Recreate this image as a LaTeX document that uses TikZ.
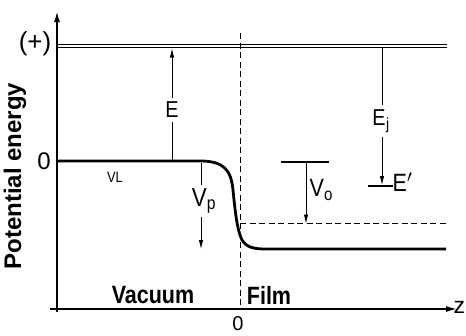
\documentclass[tikz,border=0pt]{standalone}
\usepackage{fontspec}
\setmainfont{Liberation Sans}
\newfontfamily\narrowfont[FakeStretch=0.86]{Liberation Sans}
\usetikzlibrary{arrows.meta}
\begin{document}
\begin{tikzpicture}[x=1pt,y=-1pt,
  lbl/.style={inner sep=0.5pt, font=\narrowfont\fontsize{23}{25}\selectfont},
  blbl/.style={inner sep=0.5pt, font=\narrowfont\fontsize{25}{27}\selectfont\bfseries},
  small/.style={inner sep=0.5pt, font=\narrowfont\fontsize{15}{17}\selectfont},
  axis/.style={line width=1.8pt, -{Latex[length=11pt,width=6pt]}},
  arr/.style={line width=0.8pt, -{Latex[length=9pt,width=4.5pt]}},
  thinline/.style={line width=0.8pt},
  curve/.style={line width=2.8pt, line join=round},
  dashln/.style={line width=0.9pt, dash pattern=on 6pt off 3.5pt}
]
\useasboundingbox (0,0) rectangle (466,335);
% axes
\coordinate (yb) at (57,312);
\coordinate (yt) at (57,11);
\coordinate (xl) at (50,309);
\coordinate (xr) at (457,309);
\draw[axis] (yb) -- (yt);
\draw[axis, line width=1.5pt] (xl) -- (xr);
\node[lbl, anchor=west, font=\fontsize{23}{24}\selectfont] (z) at (453,307) {z};
\node[lbl, font=\fontsize{20}{20}\selectfont] (zero2) at (238,324) {0};
\node[lbl, font=\fontsize{26}{28}\selectfont] (plus) at (35,44) {(+)};
\node[lbl, font=\fontsize{24}{26}\selectfont] (zero1) at (44,161) {0};
\node[inner sep=0.5pt, font=\fontsize{24}{26}\selectfont\bfseries, rotate=90] (ylab) at (15,176) {Potential energy};
% double line (+)
\coordinate (d1l) at (57,44.2);
\coordinate (d1r) at (447,44.2);
\coordinate (d2l) at (57,47.6);
\coordinate (d2r) at (447,47.6);
\draw[thinline] (d1l) -- (d1r);
\draw[thinline] (d2l) -- (d2r);
% interface dashed line
\coordinate (vt) at (240,33);
\coordinate (vb) at (240,309);
\draw[dashln] (vt) -- (vb);
% potential curve
\coordinate (c0) at (57,161);
\coordinate (c1) at (200,161);
\coordinate (c2) at (446,249);
\draw[curve] (c0) -- (c1) .. controls (224,161) and (231,170) .. (233,190)
  .. controls (235,210) and (237,230) .. (242,240)
  .. controls (247,248) and (255,249) .. (266,249) -- (c2);
% V0 dashed level
\coordinate (h0) at (240,223.5);
\coordinate (h1) at (446,223.5);
\draw[dashln] (h0) -- (h1);
% E arrow
\coordinate (eb) at (172,161);
\coordinate (et) at (172,48.5);
\draw[arr] (eb) -- (et);
\node[lbl, fill=white, inner ysep=4pt] (E) at (172,110) {E};
% Ej arrow and E'
\coordinate (jt) at (382,48);
\coordinate (jb) at (382,185);
\draw[arr] (jt) -- (jb);
\node[lbl, fill=white, inner ysep=5pt] (Ej) at (381,121) {E\textsubscript{\kern0.5pt j}};
\coordinate (epl) at (368,186);
\coordinate (epr) at (393,186);
\draw[line width=1.3pt] (epl) -- (epr);
\node[lbl, anchor=west, font=\narrowfont\fontsize{25}{27}\selectfont] (Ep) at (392,182) {E$'$};
% Vo
\coordinate (ol) at (281,162);
\coordinate (or) at (329,162);
\coordinate (ot) at (306,162);
\coordinate (ob) at (306,223.5);
\draw[line width=1.2pt] (ol) -- (or);
\draw[arr] (ot) -- (ob);
\node[lbl, anchor=west, font=\narrowfont\fontsize{25}{27}\selectfont] (Vo) at (309,190) {V\textsubscript{o}};
% Vp
\coordinate (pt) at (201,163);
\coordinate (pb) at (201,249);
\draw[arr] (pt) -- (pb);
\node[lbl, fill=white, inner ysep=3pt, font=\narrowfont\fontsize{26}{28}\selectfont] (Vp) at (204,201) {V\textsubscript{p}};
% labels
\node[small] (VL) at (115,177) {VL};
\node[blbl] (vac) at (153,295) {Vacuum};
\node[blbl] (film) at (269,295) {Film};
\end{tikzpicture}
\end{document}
